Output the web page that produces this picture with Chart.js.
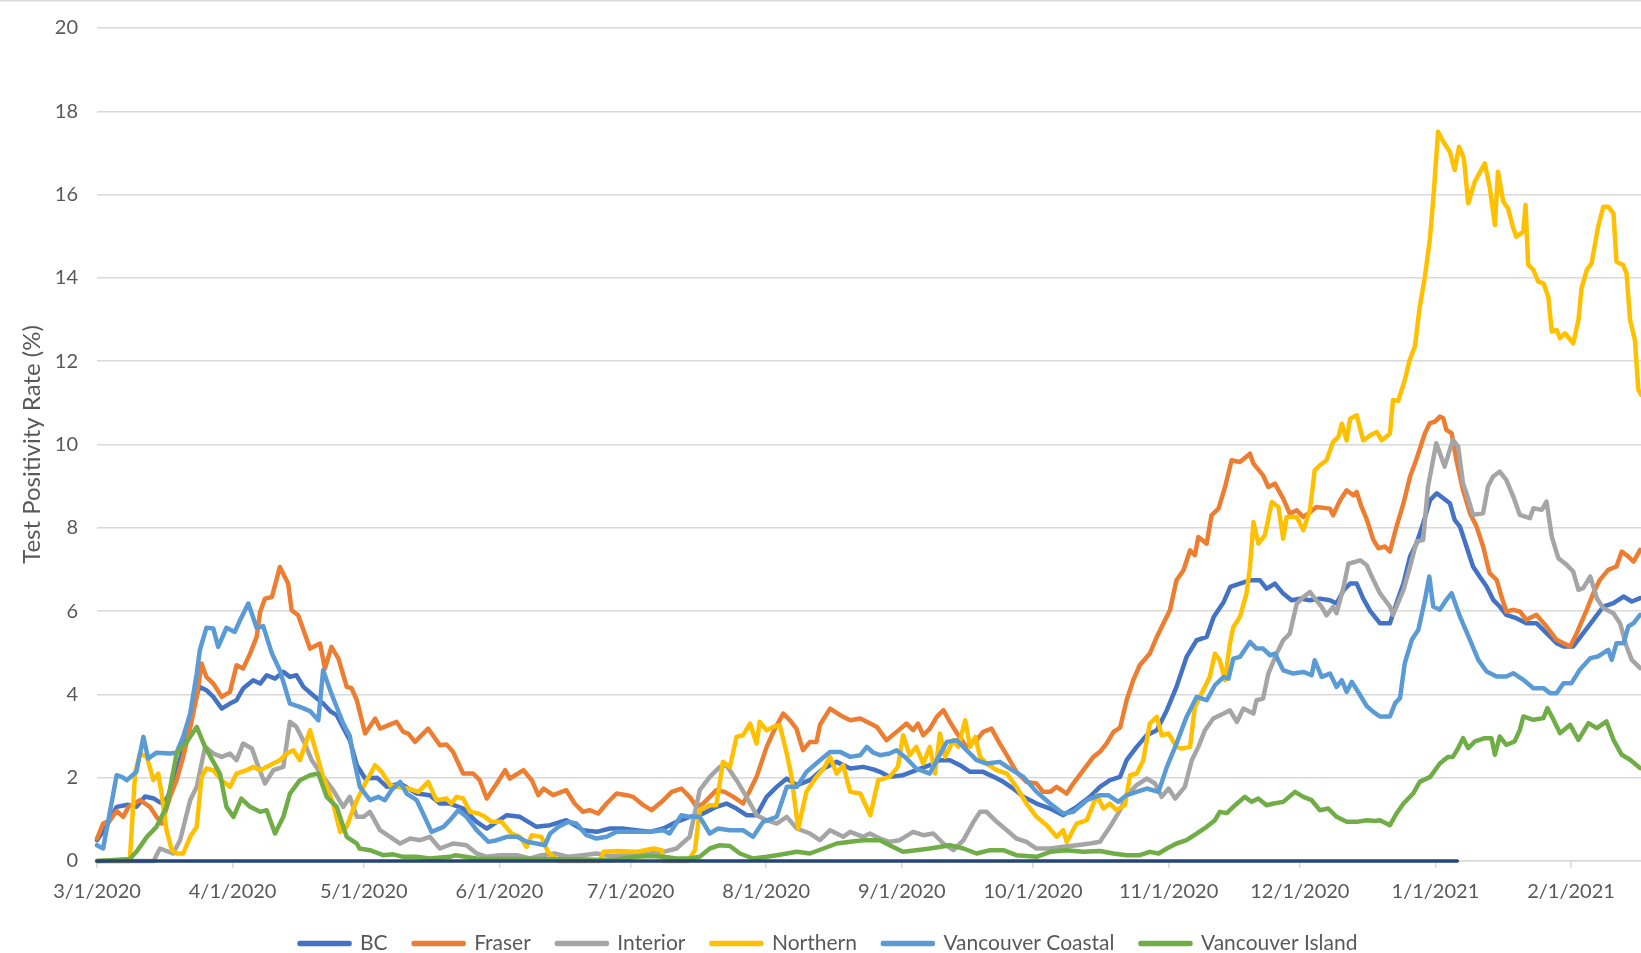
<!DOCTYPE html>
<html>
<head>
<meta charset="utf-8">
<title>Test Positivity Rate</title>
<script src="https://cdn.jsdelivr.net/npm/chart.js@4.4.1/dist/chart.umd.min.js"></script>
<style>
  html, body { margin: 0; padding: 0; background: #fff; overflow: hidden; }
  #wrap { position: relative; width: 1641px; height: 964px; }
</style>
</head>
<body>
<div id="wrap"><canvas id="positivityChart"></canvas></div>
<script>
// x = days since 3/1/2020, y = test positivity rate (%)
const monthDays = [0, 31, 61, 92, 122, 153, 184, 214, 245, 275, 306, 337];
const monthLabels = ['3/1/2020', '4/1/2020', '5/1/2020', '6/1/2020', '7/1/2020', '8/1/2020',
  '9/1/2020', '10/1/2020', '11/1/2020', '12/1/2020', '1/1/2021', '2/1/2021'];
const lastDay = 353;

const bc = [[0,0.5],[2,0.8],[4.5,1.3],[7,1.35],[9,1.3],[11,1.55],[13,1.5],[14.5,1.4],[16,1.5],[17.5,1.9],[19.7,2.7],[21.3,3.3],[22.8,4.0],[23.5,4.18],[25,4.1],[26.6,3.94],[28.5,3.66],[30.4,3.78],[31.9,3.86],[33.4,4.14],[35.7,4.34],[37.3,4.26],[38.8,4.46],[40.7,4.38],[42.6,4.54],[44.1,4.42],[45.6,4.46],[47.2,4.18],[49.4,3.98],[51.7,3.78],[53.3,3.6],[54.8,3.5],[56.3,3.2],[57.8,2.9],[59.4,2.3],[61.3,1.98],[64,2.0],[66.3,1.78],[69.3,1.86],[73.1,1.62],[76.1,1.58],[78.4,1.38],[80.7,1.38],[83.7,1.26],[86.8,0.94],[89.1,0.78],[91.4,0.94],[93.7,1.1],[96.7,1.06],[100.5,0.82],[103.6,0.86],[107.3,0.98],[111.1,0.74],[114.2,0.7],[117.3,0.78],[120,0.78],[123.3,0.74],[126.4,0.7],[129.5,0.78],[132.5,0.94],[135.5,1.06],[138.6,1.14],[141.6,1.3],[143.9,1.38],[146.2,1.26],[148.5,1.1],[150.8,1.1],[153.1,1.54],[155.4,1.78],[157.7,1.98],[160,1.82],[163,1.94],[166.1,2.22],[169.1,2.38],[172.2,2.22],[175.2,2.26],[177.5,2.2],[179,2.14],[181.2,2.02],[184.3,2.06],[187.3,2.18],[190.4,2.3],[192.7,2.42],[195,2.42],[197.3,2.3],[199.6,2.14],[202.6,2.14],[205,2.02],[207.2,1.9],[209.5,1.74],[211.8,1.54],[214.8,1.38],[217.9,1.26],[220.9,1.1],[224,1.3],[227,1.54],[229.3,1.78],[231.6,1.94],[233.9,2.02],[235.4,2.42],[237.7,2.74],[240,3.02],[242.3,3.14],[244.6,3.62],[246.8,4.18],[249.1,4.9],[251.4,5.3],[253.7,5.38],[255.3,5.86],[257.6,6.22],[259.1,6.58],[261.3,6.66],[263.6,6.74],[265.9,6.74],[267.4,6.54],[269.3,6.66],[271.2,6.42],[273.1,6.26],[275,6.3],[277.3,6.26],[279.6,6.3],[281.9,6.26],[283.4,6.18],[285,6.5],[286.5,6.66],[288,6.66],[289.5,6.3],[291.1,6.0],[293.3,5.71],[295.6,5.71],[297.1,6.19],[298.7,6.67],[300.2,7.31],[301.7,7.63],[303.2,8.11],[304.8,8.67],[306.3,8.83],[307.8,8.71],[309.3,8.59],[310.4,8.19],[311.6,8.03],[313.1,7.55],[314.6,7.07],[316.1,6.83],[317.7,6.59],[319.2,6.27],[320.7,6.11],[322.2,5.91],[324.5,5.83],[326.8,5.71],[329.1,5.71],[331.4,5.47],[333.7,5.23],[335.3,5.15],[337.5,5.15],[339.8,5.47],[342.1,5.79],[344.4,6.11],[346.7,6.19],[349,6.35],[350.9,6.23],[352.8,6.31]];

const fraser = [[0,0.54],[1.4,0.9],[3,0.98],[4.5,1.2],[6,1.06],[7.2,1.3],[9.8,1.46],[12.1,1.3],[13.6,1.06],[14.8,0.9],[16.7,1.54],[18.2,1.94],[19.7,2.5],[21.3,3.2],[22.8,3.94],[23.9,4.74],[25,4.42],[26.6,4.26],[28.5,3.94],[30.4,4.06],[31.9,4.7],[33.4,4.62],[35,4.98],[36.5,5.38],[37.3,5.98],[38.4,6.3],[40,6.34],[41.8,7.06],[43.7,6.66],[44.5,6.02],[46,5.9],[48.7,5.1],[51,5.22],[52.1,4.62],[53.6,5.14],[55.2,4.86],[57.1,4.18],[58.2,4.15],[59.4,3.86],[61.3,3.06],[63.6,3.42],[64.7,3.18],[68.5,3.34],[70,3.1],[71.2,3.06],[72.7,2.86],[75.7,3.18],[78.4,2.78],[79.9,2.8],[81.4,2.62],[83.7,2.1],[86,2.1],[87.5,1.94],[89.1,1.5],[91.4,1.86],[93.3,2.18],[94.4,1.98],[97.5,2.18],[99.4,1.94],[100.9,1.58],[102.1,1.74],[104.3,1.58],[107.3,1.7],[109.2,1.38],[111.1,1.18],[112.6,1.22],[114.6,1.14],[116.5,1.38],[118.8,1.62],[121.1,1.58],[122.6,1.54],[124.9,1.34],[126.8,1.22],[129.5,1.46],[131.4,1.66],[133.6,1.74],[135.5,1.54],[137.1,1.3],[138.6,1.38],[140.1,1.54],[141.6,1.7],[143.5,1.66],[145.5,1.54],[147.7,1.38],[149.3,1.7],[150.8,2.02],[153.1,2.74],[155,3.18],[156.9,3.54],[158.4,3.38],[159.9,3.18],[161.4,2.66],[163,2.86],[164.5,2.86],[165.3,3.27],[167.6,3.66],[169.9,3.5],[172.2,3.38],[174.5,3.42],[176.8,3.3],[178.3,3.22],[180.5,2.9],[182.8,3.1],[185.1,3.3],[186.6,3.14],[187.7,3.3],[188.9,3.02],[190.4,3.18],[192,3.46],[193.5,3.62],[195,3.34],[196.9,3.02],[198.8,2.74],[201.1,2.9],[202.6,3.1],[204.5,3.18],[206.4,2.82],[208,2.54],[210.2,2.14],[212.5,1.9],[214.8,1.86],[216.3,1.66],[217.9,1.66],[219.4,1.78],[221.7,1.62],[223.2,1.86],[225.5,2.18],[227.8,2.5],[229.3,2.62],[230.8,2.82],[232.4,3.1],[233.9,3.2],[235.4,3.86],[236.9,4.34],[238.4,4.7],[240.7,4.98],[242.3,5.38],[243.8,5.7],[245.3,6.02],[246.8,6.74],[248.4,6.98],[249.9,7.46],[251,7.34],[251.8,7.78],[253.7,7.62],[254.8,8.3],[256.4,8.46],[257.9,8.98],[259.4,9.62],[261.3,9.58],[263.6,9.78],[264.4,9.54],[266.6,9.26],[267.8,8.98],[269.3,9.06],[271.2,8.7],[272.7,8.34],[274.3,8.42],[275.8,8.26],[276.9,8.34],[278.8,8.5],[281.9,8.46],[282.6,8.3],[284.2,8.66],[285.7,8.9],[287.2,8.78],[288,8.86],[289.1,8.5],[290.3,8.2],[291.8,7.71],[293,7.51],[294.5,7.55],[295.6,7.43],[297.1,8.03],[298.7,8.59],[300.2,9.23],[301.6,9.63],[303.6,10.27],[304.7,10.51],[305.9,10.55],[307,10.67],[307.8,10.63],[308.5,10.35],[309.7,10.27],[310.8,9.63],[312.3,8.91],[313.9,8.35],[315.4,8.03],[316.9,7.55],[318.4,6.91],[320,6.75],[321.1,6.35],[322.2,5.99],[323.8,6.03],[325.3,5.99],[326.8,5.79],[329.1,5.91],[331.4,5.63],[333.7,5.31],[335.3,5.23],[336.8,5.15],[338.3,5.47],[340.6,6.03],[342.1,6.43],[343.6,6.75],[345.5,6.99],[347.4,7.07],[348.6,7.43],[350.1,7.31],[351.3,7.19],[352.8,7.47]];

const interior = [[0,0],[13,0],[13.6,0.14],[14.4,0.3],[17.4,0.18],[19,0.5],[21.3,1.46],[22.8,1.78],[24.7,2.74],[26.6,2.58],[28.5,2.5],[30.4,2.58],[31.9,2.42],[33.4,2.82],[35.4,2.7],[36.9,2.26],[38.4,1.86],[40.3,2.18],[42.6,2.26],[44.1,3.34],[45.6,3.22],[47.5,2.82],[49.1,2.42],[51.7,2.02],[54,1.7],[56.3,1.3],[57.8,1.54],[59.4,1.06],[61,1.06],[62.4,1.18],[64.7,0.74],[67,0.58],[69.3,0.42],[71.6,0.54],[73.9,0.5],[76.1,0.58],[78.4,0.3],[81.4,0.42],[84.5,0.38],[86.8,0.18],[89.1,0.1],[92.1,0.14],[96,0.14],[99,0.06],[101.6,0.14],[104.6,0.18],[107.8,0.1],[111,0.14],[114.2,0.18],[117.3,0.12],[121.9,0.14],[126.4,0.18],[129.5,0.22],[132.5,0.3],[135.5,0.58],[137.8,1.7],[140.1,2.02],[142.4,2.26],[143.9,2.3],[146.2,1.94],[148.5,1.54],[150.8,1.1],[153.1,0.98],[155.4,0.9],[157.7,1.06],[160,0.78],[163,0.66],[165.3,0.5],[167.6,0.74],[170.6,0.58],[172.2,0.7],[175.2,0.58],[176.7,0.66],[179,0.54],[181.2,0.46],[183.5,0.5],[186.6,0.7],[188.9,0.62],[191.2,0.66],[193.5,0.42],[195.8,0.26],[198.1,0.5],[200.4,0.94],[201.9,1.18],[203.4,1.18],[205.7,0.94],[208,0.74],[210.2,0.54],[212.5,0.46],[214.8,0.3],[217.9,0.3],[220.9,0.34],[224,0.38],[227,0.42],[229.3,0.46],[231.6,0.82],[233.9,1.22],[235.4,1.58],[237.7,1.82],[240,1.98],[241.9,1.86],[243.4,1.54],[245,1.74],[246.5,1.5],[248.7,1.78],[250.3,2.42],[251.8,2.74],[253.3,3.14],[255.2,3.42],[257.6,3.54],[259,3.62],[260.6,3.34],[262.1,3.66],[264.4,3.54],[265.1,3.86],[266.6,3.9],[267.8,4.5],[269.7,4.98],[271.2,5.3],[272.7,5.46],[274.3,6.18],[275.8,6.34],[277.3,6.46],[278.8,6.26],[280,6.1],[281.1,5.9],[282.6,6.1],[283.4,5.95],[285,6.58],[286.1,7.14],[287.6,7.18],[288.8,7.22],[290.3,7.1],[291.8,6.75],[293.3,6.43],[295.6,6.11],[296.3,5.91],[298.7,6.51],[300.2,7.07],[301.7,7.67],[303.2,7.71],[304.3,8.99],[306.2,10.03],[308.1,9.47],[310,10.11],[311.2,9.95],[312.3,9.07],[313.1,8.83],[314.6,8.31],[316.9,8.35],[318,8.99],[319.2,9.23],[320.7,9.35],[322.2,9.15],[323.8,8.75],[325.3,8.31],[327.6,8.23],[328.4,8.47],[330.3,8.43],[331.4,8.63],[332.6,7.79],[334.1,7.27],[336,7.11],[337.5,6.95],[338.7,6.51],[339.8,6.55],[341.4,6.83],[342.9,6.31],[344.4,6.07],[346.7,5.95],[348.2,5.71],[349.7,5.15],[350.9,4.83],[352.8,4.63]];

const northern = [[0,0],[7.5,0],[8.7,2.1],[9.8,2.58],[11.4,2.5],[12.9,1.94],[14,2.1],[14.8,1.6],[15.9,0.74],[17.1,0.26],[18.2,0.18],[19.7,0.18],[21.3,0.58],[22.8,0.82],[23.9,2.02],[25,2.22],[26.6,2.18],[28.5,1.94],[30.4,1.78],[31.9,2.1],[34.2,2.18],[35.7,2.26],[37.3,2.18],[39.5,2.3],[41.8,2.42],[43.4,2.58],[44.9,2.66],[46.4,2.42],[48.7,3.14],[50.2,2.58],[51.7,2.02],[54,1.38],[55.6,0.7],[57.1,0.82],[58.2,1.14],[59.4,1.46],[61.3,1.86],[63.6,2.3],[65.1,2.14],[67,1.82],[68.5,1.78],[71.2,1.74],[73.5,1.66],[75.7,1.9],[77.6,1.46],[79.9,1.5],[81,1.38],[82.2,1.54],[83.7,1.5],[85.3,1.18],[87.2,1.14],[88.7,1.06],[90.2,0.94],[92.5,0.94],[94.8,0.66],[96.7,0.58],[98.2,0.34],[99.4,0.62],[101.6,0.58],[103.1,0.22],[105.5,0],[115,0],[115.8,0.22],[119,0.24],[123.3,0.22],[127.2,0.3],[129.1,0.26],[129.5,0],[135.1,0],[136.7,0.26],[137.8,1.22],[140.1,1.34],[141.6,1.34],[143.1,2.38],[144.7,2.26],[146.2,2.98],[147.7,3.02],[149.3,3.3],[150.8,2.82],[151.5,3.34],[153.1,3.14],[154.6,3.22],[156.1,3.26],[157.7,2.58],[158.8,2.02],[160.3,0.78],[162.2,1.66],[164.5,2.02],[166.1,2.22],[167.6,2.5],[169.1,2.1],[170.6,2.3],[172.2,1.66],[174.5,1.62],[176.8,1.1],[178.6,1.94],[181.2,2.02],[183.1,2.26],[184.3,3.02],[185.8,2.54],[187.3,2.74],[188.9,2.34],[190.4,2.74],[191.6,2.1],[192.7,3.06],[193.9,2.5],[195.8,2.9],[196.9,2.74],[198.5,3.38],[199.6,2.74],[200.8,2.98],[201.9,2.5],[203.4,2.34],[205.7,2.18],[208,2.1],[210.2,1.78],[212.5,1.38],[214.8,1.06],[217.1,0.86],[219.4,0.58],[220.9,0.74],[221.7,0.46],[224,0.9],[226.3,0.98],[228.6,1.58],[230.1,1.26],[231.6,1.38],[233.1,1.22],[235,1.34],[236.2,2.06],[237.7,2.1],[239.2,2.42],[240.7,3.3],[242.3,3.46],[243.4,3.02],[245,3.06],[246.8,2.74],[248,2.7],[249.9,2.74],[251,3.7],[252.9,4.1],[254.4,4.42],[255.6,4.98],[256.7,4.82],[257.9,4.34],[259,5.22],[259.8,5.62],[261.3,5.86],[262.8,6.42],[263.6,7.06],[264.4,8.14],[265.5,7.62],[267,7.82],[268.6,8.62],[270.1,8.5],[271.2,7.74],[272,8.26],[274.3,8.26],[275.8,7.94],[277.3,8.42],[278.4,9.38],[279.6,9.5],[281.1,9.62],[282.6,10.06],[283.8,10.18],[284.6,10.5],[285.7,10.1],[286.5,10.62],[288,10.7],[289.5,10.1],[291.1,10.22],[292.6,10.3],[293.7,10.1],[295.6,10.26],[296.3,11.07],[297.5,11.05],[299,11.55],[300.1,12.03],[301.3,12.35],[302.4,13.3],[303.6,14.03],[304.7,14.91],[305.5,15.87],[306.6,17.51],[307.8,17.27],[309.3,17.03],[310.4,16.59],[311.4,17.15],[312.5,16.87],[313.5,15.79],[315,16.31],[317.3,16.75],[318.4,16.19],[319.6,15.27],[320.3,16.55],[321.5,15.83],[322.6,15.67],[323.8,15.19],[324.5,14.99],[326.1,15.11],[326.6,15.75],[327.2,14.31],[328.4,14.19],[329.5,13.91],[330.7,13.87],[331.8,13.55],[332.6,12.71],[333.7,12.75],[334.5,12.55],[335.6,12.67],[337.5,12.43],[338.7,12.99],[339.4,13.75],[340.6,14.19],[341.7,14.35],[343.2,15.23],[344.4,15.71],[345.5,15.71],[346.7,15.55],[347.4,14.39],[348.9,14.31],[349.7,14.11],[350.5,12.99],[351.6,12.51],[352.4,11.31],[353,11.2]];

const vanCoastal = [[0,0.38],[1.4,0.3],[4.5,2.06],[6,2.0],[6.8,1.94],[9,2.14],[10.6,2.98],[11.7,2.46],[13.6,2.6],[16.7,2.58],[18.2,2.6],[19.7,2.98],[21.3,3.54],[22.8,4.5],[23.5,5.06],[25,5.6],[26.6,5.58],[27.7,5.14],[29.6,5.6],[31.5,5.5],[32.7,5.78],[34.6,6.18],[36.5,5.6],[38,5.64],[40,4.98],[41.8,4.58],[44.1,3.78],[46.4,3.7],[48.7,3.6],[50.6,3.38],[51.7,4.58],[53.3,4.1],[56.3,3.3],[57.8,3.0],[58.6,2.5],[60.1,1.78],[62.4,1.46],[64.3,1.54],[65.8,1.46],[67.3,1.7],[69.3,1.9],[70.8,1.62],[73.1,1.46],[74.2,1.22],[76.5,0.7],[79.2,0.82],[80.7,0.98],[82.6,1.22],[84.5,1.06],[86.8,0.74],[89.5,0.46],[91.4,0.5],[93.7,0.58],[96,0.58],[98.3,0.46],[100.5,0.42],[102.4,0.38],[103.6,0.66],[105.5,0.82],[107.8,0.94],[109.6,0.9],[111.9,0.62],[114.2,0.54],[116.5,0.58],[118.8,0.7],[121,0.7],[124,0.7],[126.4,0.7],[129.5,0.74],[130.9,0.66],[133.6,1.1],[135.5,1.06],[137.8,1.06],[140.1,0.66],[142,0.78],[144.7,0.74],[147.7,0.74],[150,0.58],[152.3,0.94],[155.4,1.06],[157.7,1.78],[160,1.78],[162.2,2.14],[165.3,2.42],[167.6,2.62],[169.9,2.62],[172.2,2.5],[174.5,2.54],[176,2.74],[177.5,2.6],[179,2.54],[181.2,2.58],[182.8,2.66],[185.1,2.46],[187.3,2.22],[190.4,2.1],[192,2.42],[194.3,2.86],[196.6,2.9],[198.8,2.66],[201.1,2.42],[203.4,2.34],[206.4,2.38],[208.7,2.22],[211.8,2.02],[214.8,1.66],[217.9,1.38],[220.9,1.14],[223.2,1.18],[226.3,1.46],[229.3,1.58],[231.2,1.58],[233.5,1.42],[235.4,1.58],[237.7,1.66],[240,1.74],[242.7,1.66],[244.6,2.26],[246.8,2.82],[249.1,3.46],[251.4,3.94],[253.7,3.86],[255.6,4.22],[257.6,4.42],[258.7,4.38],[259.8,4.86],[261.3,4.9],[263.6,5.26],[265.1,5.1],[266.6,5.1],[268.2,4.94],[269.3,4.98],[271.2,4.58],[273.5,4.5],[275.8,4.54],[277.7,4.46],[278.4,4.82],[280,4.42],[281.9,4.5],[283.4,4.18],[284.6,4.34],[285.7,4.06],[286.9,4.3],[288.8,3.98],[290.3,3.72],[291.8,3.58],[293.3,3.47],[295.6,3.47],[296.8,3.79],[297.9,3.91],[299,4.75],[300.6,5.31],[302.1,5.55],[303.6,6.27],[304.6,6.83],[305.5,6.11],[307,6.03],[308.5,6.27],[309.7,6.43],[311.6,5.87],[313.9,5.31],[315.8,4.83],[317.7,4.55],[320,4.43],[322.2,4.43],[323.8,4.51],[326.1,4.35],[328.4,4.15],[330.7,4.15],[332.2,4.03],[333.7,4.03],[335.3,4.27],[337.1,4.27],[339,4.59],[341.4,4.87],[343.2,4.91],[345.5,5.07],[346.3,4.83],[347.4,5.23],[349,5.23],[350.1,5.63],[351.3,5.71],[352.8,5.91]];

const vanIsland = [[0,0],[7.5,0.05],[9,0.22],[11.4,0.58],[13.6,0.82],[15.9,1.3],[18.2,2.58],[20.5,2.86],[22.8,3.22],[24.7,2.74],[26.6,2.38],[28.1,2.1],[29.6,1.3],[31.2,1.06],[33,1.5],[35,1.3],[37.3,1.18],[38.8,1.22],[40.7,0.66],[42.6,1.06],[44.1,1.62],[46.4,1.94],[48.7,2.06],[50.6,2.1],[52.5,1.54],[54.8,1.3],[57.1,0.58],[59.4,0.42],[60,0.3],[62.4,0.26],[65.4,0.14],[67.7,0.16],[70,0.1],[73.1,0.1],[76,0.06],[80.7,0.1],[82,0.14],[86.8,0.06],[90,0.05],[100,0.05],[110,0.04],[117.3,0.02],[123.3,0.1],[126.4,0.12],[129.5,0.1],[132.5,0.06],[135.5,0.06],[137.8,0.1],[140.1,0.3],[142.4,0.38],[144.7,0.36],[147,0.18],[150,0.06],[153.1,0.1],[155.4,0.14],[160,0.22],[163,0.18],[166.1,0.3],[169.1,0.42],[172.2,0.46],[175.2,0.5],[179,0.5],[181.2,0.38],[184.3,0.22],[187.3,0.26],[190.4,0.3],[195,0.38],[198.1,0.3],[201.1,0.18],[204.2,0.26],[207.2,0.26],[210.2,0.14],[214.8,0.1],[217.9,0.22],[221.7,0.26],[225.5,0.22],[229.3,0.24],[232.4,0.18],[235.4,0.14],[238.4,0.14],[240.7,0.22],[242.7,0.18],[244.6,0.3],[246.8,0.42],[249.1,0.5],[251.4,0.66],[253.7,0.82],[255.6,0.98],[256.7,1.18],[258.3,1.15],[260.2,1.34],[262.4,1.54],[264,1.42],[265.5,1.5],[267.4,1.34],[269,1.38],[271.2,1.42],[273.9,1.66],[275.8,1.54],[277.7,1.46],[279.6,1.22],[281.5,1.26],[283.4,1.06],[285.7,0.94],[288,0.94],[290.3,0.98],[292.2,0.96],[293.3,0.98],[295.6,0.86],[297.1,1.14],[298.7,1.38],[300.9,1.62],[302.4,1.9],[304.8,2.02],[307,2.34],[308.9,2.5],[310,2.5],[311.2,2.71],[312.3,2.95],[313.5,2.71],[315,2.87],[317.3,2.95],[318.8,2.95],[319.6,2.55],[320.7,2.99],[322.2,2.79],[324.1,2.87],[325.3,3.15],[326.1,3.47],[328.4,3.39],[330.7,3.43],[331.6,3.67],[333,3.39],[334.5,3.07],[336.8,3.27],[338.7,2.91],[341,3.31],[342.9,3.19],[345.1,3.35],[346.7,2.91],[348.6,2.55],[350.5,2.43],[352.8,2.23]];

// dark baseline series along zero (no legend entry)
const baseline = [[0,0],[311,0]];

const seriesNames = ['BC', 'Fraser', 'Interior', 'Northern', 'Vancouver Coastal', 'Vancouver Island'];
const seriesData = [bc, fraser, interior, northern, vanCoastal, vanIsland];
const seriesColors = ['#4472C4', '#ED7D31', '#A5A5A5', '#FFC000', '#5B9BD5', '#70AD47'];

const textColor = '#595959';
const gridColor = '#d9d9d9';

const datasets = seriesNames.map((name, i) => ({
    label: name,
    data: seriesData[i].map(([x, y]) => ({ x, y })),
    borderColor: seriesColors[i],
    backgroundColor: seriesColors[i],
    order: seriesNames.length - i   // later series drawn on top, like Excel
}));
datasets.push({
    label: '',
    data: baseline.map(([x, y]) => ({ x, y })),
    borderColor: '#264478',
    backgroundColor: '#264478',
    borderWidth: 3.5,
    order: 0
});

// thin frame line at the very top of the picture
const topFrame = {
    id: 'topFrame',
    beforeDraw(chart) {
        const c = chart.ctx;
        c.save();
        c.fillStyle = gridColor;
        c.fillRect(0, 0, chart.width, 1.5);
        c.restore();
    }
};

const ctx = document.getElementById('positivityChart').getContext('2d');
new Chart(ctx, {
    type: 'line',
    data: { datasets },
    plugins: [topFrame],
    options: {
        responsive: true,
        maintainAspectRatio: false,
        animation: false,
        layout: { padding: { top: 28, left: 16, right: 0, bottom: 0 } },
        datasets: {
            line: {
                borderWidth: 4.5,
                pointRadius: 0,
                tension: 0,
                borderJoinStyle: 'round',
                borderCapStyle: 'round',
                clip: false
            }
        },
        scales: {
            x: {
                type: 'linear',
                min: 0,
                max: lastDay,
                afterBuildTicks: (scale) => { scale.ticks = monthDays.map(v => ({ value: v })); },
                afterFit: (scale) => { scale.height = 46; },
                ticks: {
                    autoSkip: false,
                    maxRotation: 0,
                    padding: 12,
                    color: textColor,
                    font: { family: 'Lato', size: 20 },
                    callback: (v, i) => monthLabels[i]
                },
                grid: { drawOnChartArea: false, drawTicks: true, tickLength: 7, color: gridColor, lineWidth: 1.5 },
                border: { display: true, color: gridColor, width: 1.5 }
            },
            y: {
                min: 0,
                max: 20,
                afterFit: (scale) => {
                    scale.width = 81;
                    scale.paddingTop = 12;
                    scale.paddingBottom = 12;
                },
                ticks: { stepSize: 2, padding: 19, color: textColor, font: { family: 'Lato', size: 20 } },
                grid: { color: gridColor, lineWidth: 1.5, drawTicks: false },
                border: { display: false },
                title: {
                    display: true,
                    text: 'Test Positivity Rate (%)',
                    color: textColor,
                    font: { family: 'Lato', size: 24 },
                    padding: { top: 2, bottom: 0 }
                }
            }
        },
        plugins: {
            legend: {
                position: 'bottom',
                labels: {
                    boxWidth: 50,
                    boxHeight: 1,
                    padding: 26,
                    color: textColor,
                    font: { family: 'Lato', size: 21 },
                    filter: (item) => item.text !== '',
                    sort: (a, b) => a.datasetIndex - b.datasetIndex
                }
            },
            tooltip: { enabled: false }
        }
    }
});
</script>
</body>
</html>
